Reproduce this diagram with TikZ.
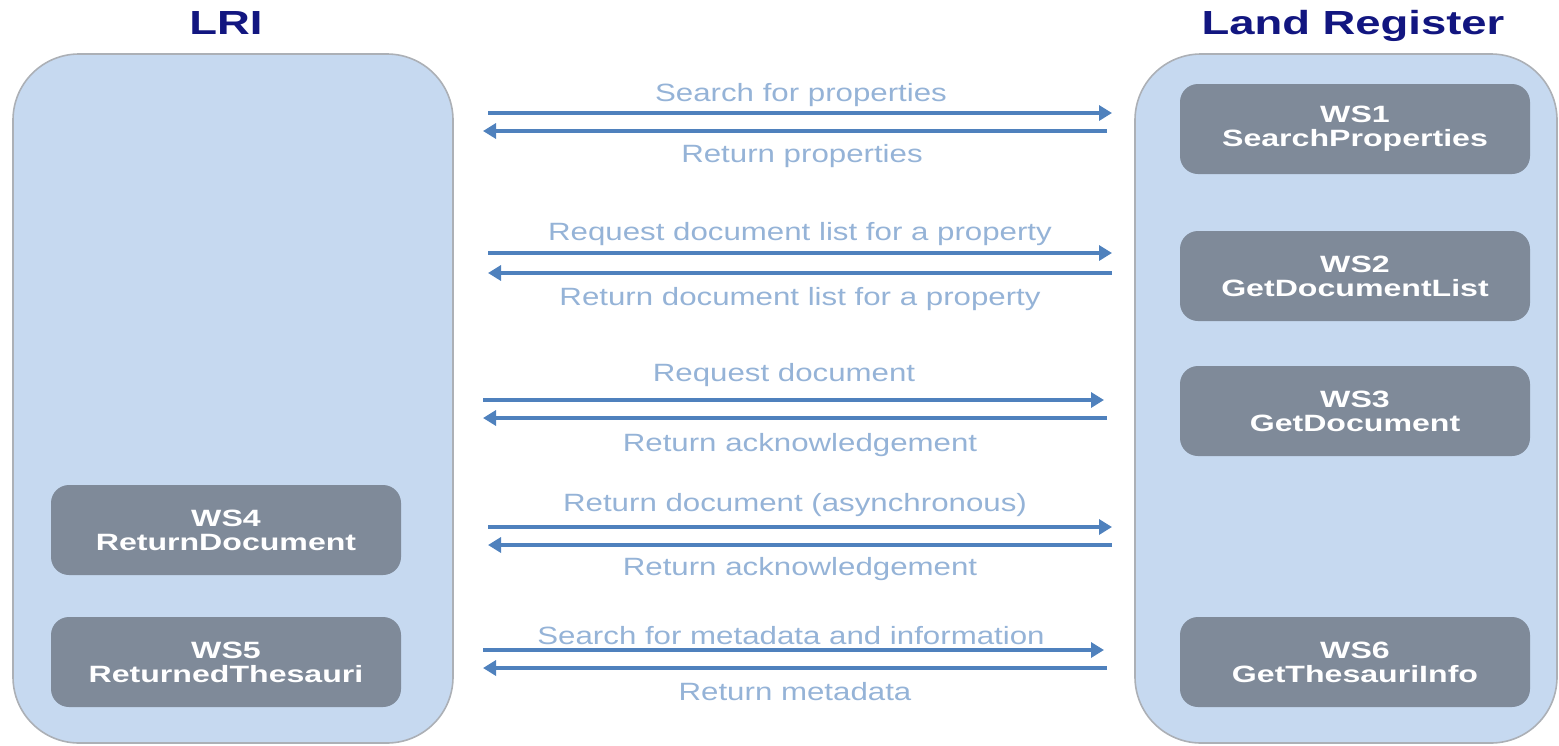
\documentclass[tikz,border=0pt]{standalone}
\usepackage{fontspec}
\setmainfont{Liberation Sans}
\usepackage{graphicx}
\usetikzlibrary{arrows.meta}
\definecolor{titlecol}{RGB}{18,22,128}
\definecolor{contfill}{RGB}{198,217,240}
\definecolor{contdraw}{RGB}{172,176,182}
\definecolor{wsfill}{RGB}{127,138,153}
\definecolor{arrowcol}{RGB}{79,129,189}
\definecolor{labelcol}{RGB}{149,179,215}
\newcommand\wb[1]{\scalebox{1.36}[1]{#1}}
\newcommand\wl[1]{\scalebox{1.25}[1]{#1}}
\tikzset{
  container/.style={draw=contdraw, line width=0.8pt, fill=contfill, rounded corners=33pt,
    rectangle, inner sep=0pt, outer sep=0pt},
  wsbox/.style={fill=wsfill, rounded corners=9pt, rectangle, inner sep=0pt,
    minimum width=175pt, minimum height=45pt, text=white, align=center,
    font=\fontsize{11.8}{12}\selectfont\bfseries},
  titlelabel/.style={text=titlecol, font=\fontsize{16.7}{18}\selectfont\bfseries, anchor=base, inner sep=0pt},
  msglabel/.style={text=labelcol, font=\fontsize{12.5}{14}\selectfont, anchor=base, inner sep=0pt},
  msgarrow/.style={draw=arrowcol, line width=2pt, -{Triangle[length=6.5pt,width=7.5pt]}},
}
\begin{document}
\begin{tikzpicture}[x=0.5pt,y=-0.5pt]
\useasboundingbox (0,0) rectangle (1559,745);
% containers
\node[container, minimum width=220pt, minimum height=344.5pt] (lri) at (233,398.5) {};
\node[container, minimum width=211pt, minimum height=344.5pt] (lr) at (1346,398.5) {};
% titles
\node[titlelabel] (tlri) at (226,34) {\wb{LRI}};
\node[titlelabel] (tlr) at (1353,34) {\wb{Land Register}};
% web service boxes
\node[wsbox] (ws1) at (1355,129) {\wb{WS1}\\\wb{SearchProperties}};
\node[wsbox] (ws2) at (1355,276) {\wb{WS2}\\\wb{GetDocumentList}};
\node[wsbox] (ws3) at (1355,411) {\wb{WS3}\\\wb{GetDocument}};
\node[wsbox] (ws6) at (1355,662) {\wb{WS6}\\\wb{GetThesauriInfo}};
\node[wsbox] (ws4) at (226,530) {\wb{WS4}\\\wb{ReturnDocument}};
\node[wsbox] (ws5) at (226,662) {\wb{WS5}\\\wb{ReturnedThesauri}};
% arrow end points
\coordinate (a1s) at (488,113); \coordinate (a1e) at (1112,113);
\coordinate (b1s) at (1107,131); \coordinate (b1e) at (483,131);
\coordinate (a2s) at (488,253); \coordinate (a2e) at (1112,253);
\coordinate (b2s) at (1112,273); \coordinate (b2e) at (488,273);
\coordinate (a3s) at (483,400); \coordinate (a3e) at (1104,400);
\coordinate (b3s) at (1107,418); \coordinate (b3e) at (483,418);
\coordinate (a4s) at (488,527); \coordinate (a4e) at (1112,527);
\coordinate (b4s) at (1112,545); \coordinate (b4e) at (488,545);
\coordinate (a5s) at (483,650); \coordinate (a5e) at (1104,650);
\coordinate (b5s) at (1107,668); \coordinate (b5e) at (483,668);
\foreach \p in {a1,b1,a2,b2,a3,b3,a4,b4,a5,b5}{\draw[msgarrow] (\p s) -- (\p e);}
% labels
\node[msglabel] (l1) at (801,101) {\wl{Search for properties}};
\node[msglabel] (l2) at (802,162) {\wl{Return properties}};
\node[msglabel] (l3) at (800,240) {\wl{Request document list for a property}};
\node[msglabel] (l4) at (800,305) {\wl{Return document list for a property}};
\node[msglabel] (l5) at (784,381) {\wl{Request document}};
\node[msglabel] (l6) at (800,451) {\wl{Return acknowledgement}};
\node[msglabel] (l7) at (795,511) {\wl{Return document (asynchronous)}};
\node[msglabel] (l8) at (800,575) {\wl{Return acknowledgement}};
\node[msglabel] (l9) at (791,644) {\wl{Search for metadata and information}};
\node[msglabel] (l10) at (795,700) {\wl{Return metadata}};
\end{tikzpicture}
\end{document}
